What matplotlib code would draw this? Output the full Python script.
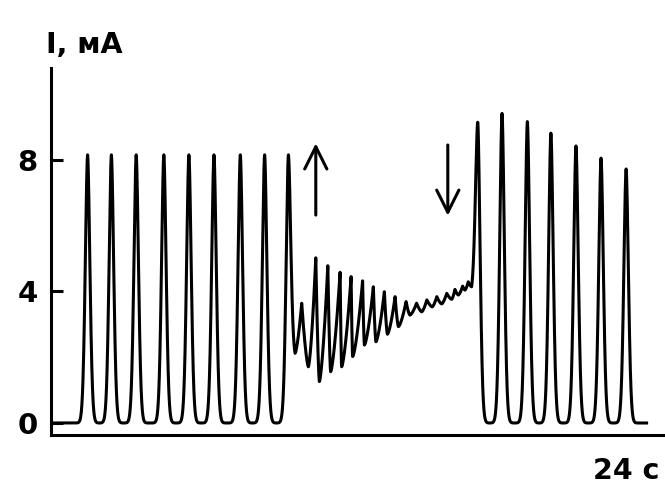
import numpy as np
import matplotlib
matplotlib.use("Agg")
import matplotlib.pyplot as plt

# ---- trace data (time in s, current in mA) ----
BASELINE = 0.0
trace_start = 0.0
trace_end = 23.28

# regular relaxation spikes before the perturbation
spike1_t = [1.43, 2.36, 3.33, 4.41, 5.39, 6.37, 7.40, 8.35, 9.28]
spike1_I = [8.15, 8.15, 8.15, 8.15, 8.15, 8.15, 8.15, 8.15, 8.15]

# damped oscillation (successive extrema)
damped_t = [9.54, 9.80, 10.06, 10.35, 10.49, 10.82, 10.93, 11.30, 11.36,
            11.73, 11.79, 12.18, 12.25, 12.60, 12.70, 13.03, 13.15, 13.45,
            13.58, 13.88, 14.03, 14.29, 14.49, 14.69, 14.90, 15.08, 15.27,
            15.47, 15.66, 15.79, 15.92, 16.09, 16.18, 16.31, 16.44]
damped_I = [2.12, 3.64, 1.71, 5.02, 1.26, 4.78, 1.56, 4.58, 1.71,
            4.45, 2.02, 4.32, 2.37, 4.14, 2.47, 3.99, 2.70, 3.84,
            2.93, 3.69, 3.28, 3.64, 3.38, 3.74, 3.53, 3.84, 3.62,
            3.94, 3.76, 4.06, 3.89, 4.16, 4.04, 4.29, 4.14]

# spikes after the perturbation is removed
spike2_t = [16.68, 17.63, 18.62, 19.54, 20.52, 21.50, 22.48]
spike2_I = [9.14, 9.41, 9.16, 8.81, 8.42, 8.05, 7.72]

# markers for switching the perturbation on / off
arrow_up_t, arrow_up_I = 10.35, (6.32, 8.50)
arrow_down_t, arrow_down_I = 15.51, (8.45, 6.30)

y_ticks = [0, 4, 8]
y_label = "I, мА"
x_label = "24 с"

# ---- build the trace from its extrema ----
knots = [(trace_start, BASELINE, False)]
for i, (t, v) in enumerate(zip(spike1_t, spike1_I)):
    if i > 0:
        knots.append(((spike1_t[i - 1] + t) / 2, BASELINE, False))
    knots.append((t, v, True))
for t, v in zip(damped_t, damped_I):
    knots.append((t, v, False))
for i, (t, v) in enumerate(zip(spike2_t, spike2_I)):
    if i > 0:
        knots.append(((spike2_t[i - 1] + t) / 2, BASELINE, False))
    knots.append((t, v, True))
knots.append((trace_end, BASELINE, False))

# spike flank: stretched-exponential decay away from the tip
SPIKE_SIGMA, SPIKE_K = 0.129, 1.8
WAVE_POW = 1.5


def spike_profile(d, span):
    g = np.exp(-(d / SPIKE_SIGMA) ** SPIKE_K)
    g_end = np.exp(-(span / SPIKE_SIGMA) ** SPIKE_K)
    return (g - g_end) / (1 - g_end)


xs, ys = [], []
for (t0, v0, s0), (t1, v1, s1) in zip(knots[:-1], knots[1:]):
    tt = np.linspace(t0, t1, 200)
    if v1 >= v0:
        d, lo, hi = t1 - tt, v0, v1
    else:
        d, lo, hi = tt - t0, v1, v0
    if s0 or s1:
        g = spike_profile(d, t1 - t0)
    else:
        g = np.clip(1 - d / (t1 - t0), 0, 1) ** WAVE_POW
    xs.append(tt)
    ys.append(lo + (hi - lo) * g)
x = np.concatenate(xs)
y = np.concatenate(ys)

# ---- figure ----
W, H = 665, 486
LW = 2.2
fig = plt.figure(figsize=(W / 100, H / 100), dpi=100)
ax = fig.add_axes([51 / W, 51 / H, (W - 51) / W, (435 - 68) / H])
ax.plot(x, y, color="black", lw=LW, solid_joinstyle="round")

ax.set_xlim(0, 24)
ax.set_ylim(-0.365, 10.79)
for side in ("top", "right"):
    ax.spines[side].set_visible(False)
for side in ("left", "bottom"):
    ax.spines[side].set_linewidth(LW)
ax.set_xticks([])
ax.set_yticks(y_ticks)
ax.tick_params(axis="y", direction="in", length=8.6, width=LW, pad=9.5,
               labelsize=21)
font = ["DejaVu Sans"]
for lab in ax.get_yticklabels():
    lab.set_family(font)
    lab.set_fontweight("bold")

arrow_kw = dict(arrowstyle="->,head_length=1.6,head_width=0.8",
                color="black", lw=LW, shrinkA=0, shrinkB=0)
ax.annotate("", xy=(arrow_up_t, arrow_up_I[1]),
            xytext=(arrow_up_t, arrow_up_I[0]), arrowprops=arrow_kw)
ax.annotate("", xy=(arrow_down_t, arrow_down_I[1]),
            xytext=(arrow_down_t, arrow_down_I[0]), arrowprops=arrow_kw)

fig.text(46 / W, 1 - 53 / H, y_label, family=font, fontweight="bold",
         fontsize=20.5, ha="left", va="baseline")
fig.text(659 / W, 1 - 479 / H, x_label, family=font, fontweight="bold",
         fontsize=20.5, ha="right", va="baseline")

fig.savefig("out.png", dpi=100, facecolor="white")
